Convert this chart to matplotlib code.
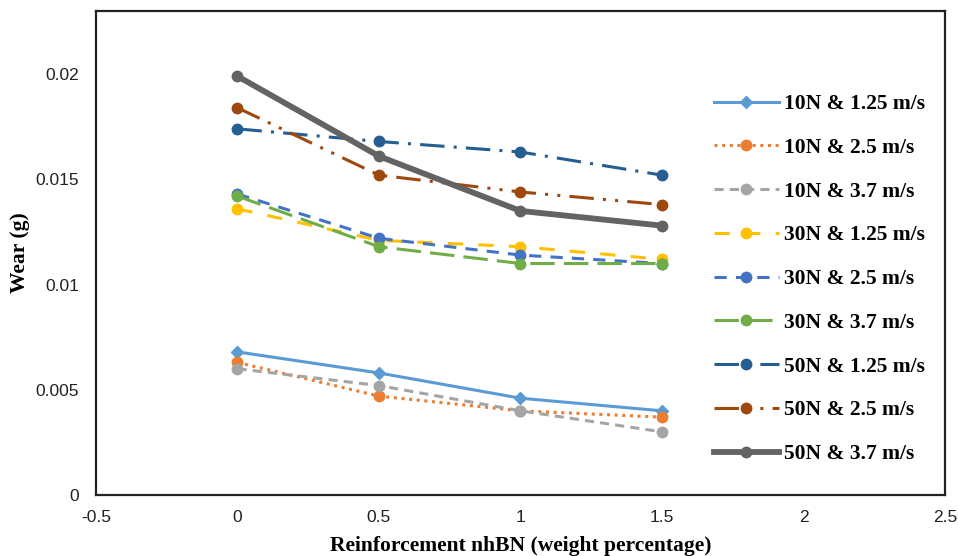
import matplotlib
matplotlib.use("Agg")
import matplotlib.pyplot as plt
from matplotlib.ticker import FixedLocator, FixedFormatter

# nhBN reinforcement (wt.%)
reinforcement = [0, 0.5, 1, 1.5]

# Wear loss (g) for each load / sliding-speed condition
labels = [
    "10N & 1.25 m/s", "10N & 2.5 m/s", "10N & 3.7 m/s",
    "30N & 1.25 m/s", "30N & 2.5 m/s", "30N & 3.7 m/s",
    "50N & 1.25 m/s", "50N & 2.5 m/s", "50N & 3.7 m/s",
]
wear_10n_125 = [0.0068, 0.0058, 0.0046, 0.0040]
wear_10n_25 = [0.0063, 0.0047, 0.0040, 0.0037]
wear_10n_37 = [0.0060, 0.0052, 0.0040, 0.0030]
wear_30n_125 = [0.0136, 0.0121, 0.0118, 0.0112]
wear_30n_25 = [0.0143, 0.0122, 0.0114, 0.0110]
wear_30n_37 = [0.0142, 0.0118, 0.0110, 0.0110]
wear_50n_125 = [0.0174, 0.0168, 0.0163, 0.0152]
wear_50n_25 = [0.0184, 0.0152, 0.0144, 0.0138]
wear_50n_37 = [0.0199, 0.0161, 0.0135, 0.0128]

series = [wear_10n_125, wear_10n_25, wear_10n_37,
          wear_30n_125, wear_30n_25, wear_30n_37,
          wear_50n_125, wear_50n_25, wear_50n_37]

x_ticks = [-0.5, 0, 0.5, 1, 1.5, 2, 2.5]
x_tick_labels = ["-0.5", "0", "0.5", "1", "1.5", "2", "2.5"]
y_ticks = [0, 0.005, 0.01, 0.015, 0.02]
y_tick_labels = ["0", "0.005", "0.01", "0.015", "0.02"]

styles = [
    dict(color="#5B9BD5", ls="-", marker="D", ms=6, lw=2.2),
    dict(color="#ED7D31", ls=(0, (1, 1.5)), marker="o", ms=7.5, lw=2.2),
    dict(color="#A5A5A5", ls=(0, (3, 2)), marker="o", ms=7.5, lw=2.2),
    dict(color="#FFC000", ls=(0, (5, 5)), marker="o", ms=7.5, lw=2.2),
    dict(color="#4472C4", ls=(0, (4, 3)), marker="o", ms=7.5, lw=2.2),
    dict(color="#70AD47", ls=(0, (8, 3)), marker="o", ms=7.5, lw=2.2),
    dict(color="#255E91", ls=(0, (8, 3, 1, 3)), marker="o", ms=7.5, lw=2.2),
    dict(color="#9E480E", ls=(0, (8, 3, 1, 3, 1, 3)), marker="o", ms=7.5, lw=2.2),
    dict(color="#636363", ls="-", marker="o", ms=7.5, lw=4.2),
]

fig = plt.figure(figsize=(9.58, 5.56), dpi=100)
ax = fig.add_axes([0.1002, 0.1097, 0.8862, 0.8705])

for values, label, st in zip(series, labels, styles):
    ax.plot(reinforcement, values, label=label, color=st["color"],
            linestyle=st["ls"], marker=st["marker"], markersize=st["ms"],
            linewidth=st["lw"])

ax.set_xlim(-0.5, 2.5)
ax.set_ylim(0, 0.023)
ax.xaxis.set_major_locator(FixedLocator(x_ticks))
ax.xaxis.set_major_formatter(FixedFormatter(x_tick_labels))
ax.yaxis.set_major_locator(FixedLocator(y_ticks))
ax.yaxis.set_major_formatter(FixedFormatter(y_tick_labels))
ax.tick_params(axis="y", length=0, pad=12, labelsize=12.5)
ax.tick_params(axis="x", length=0, pad=11, labelsize=12.5)
for lbl in ax.get_xticklabels() + ax.get_yticklabels():
    lbl.set_family("Liberation Sans")
    lbl.set_color("#222222")

for sp in ax.spines.values():
    sp.set_linewidth(1.6)
    sp.set_color("#222222")

serif_bold = dict(family="Liberation Serif", weight="bold", size=15.5)
ax.set_xlabel("Reinforcement nhBN (weight percentage)", labelpad=8, **serif_bold)
ax.set_ylabel("Wear (g)", labelpad=4, **serif_bold)

leg = ax.legend(loc="upper left", bbox_to_anchor=(714 / 958, 1 - 94 / 556),
                bbox_transform=fig.transFigure, frameon=False,
                prop=dict(family="Liberation Serif", weight="bold", size=15.5),
                handlelength=3.0, handletextpad=0.25, labelspacing=1.10,
                borderpad=0, borderaxespad=0)

fig.savefig("out.png", dpi=100)
